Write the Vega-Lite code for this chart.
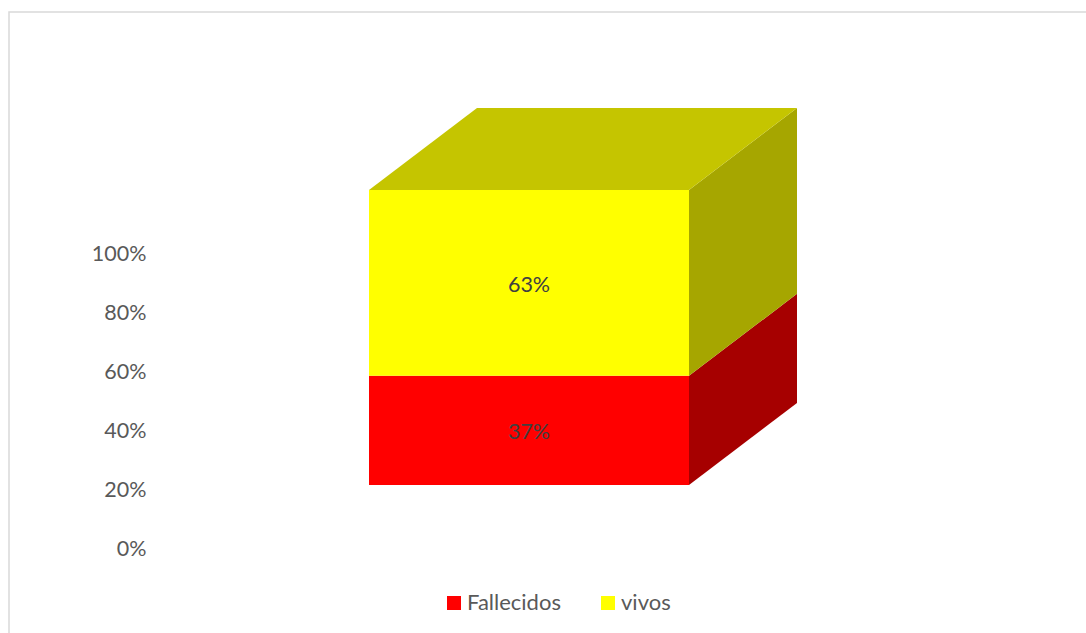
{
  "$schema": "https://vega.github.io/schema/vega-lite/v6.json",
  "width": 1090,
  "height": 630,
  "autosize": {"type": "none"},
  "padding": {"left": 9, "top": 12, "right": 0, "bottom": 0},
  "background": "white",
  "config": {
    "font": "Lato",
    "view": {"stroke": "#D9D9D9", "strokeWidth": 1.5}
  },
  "params": [
    {"name": "dx", "value": 0.3375},
    {"name": "dy", "value": 27.8}
  ],
  "data": {
    "values": [
      {"serie": "Fallecidos", "valor": 37},
      {"serie": "vivos", "valor": 63}
    ]
  },
  "transform": [
    {"stack": "valor", "groupby": [], "sort": [{"field": "serie"}], "as": ["v0", "v1"]}
  ],
  "layer": [
    {
      "transform": [
        {"calculate": "[0, 1]", "as": "t"},
        {"flatten": ["t"]},
        {"calculate": "1 + datum.t * dx", "as": "sx"},
        {"calculate": "datum.v0 + datum.t * dy", "as": "sy0"},
        {"calculate": "datum.v1 + datum.t * dy", "as": "sy1"}
      ],
      "mark": {"type": "area", "orient": "vertical"},
      "encoding": {
        "x": {"field": "sx", "type": "quantitative", "scale": {"domain": [-1.125, 2.28125], "nice": false, "zero": false}, "axis": null},
        "y": {
          "field": "sy0",
          "type": "quantitative",
          "scale": {"domain": [-53.2, 160.3], "nice": false, "zero": false},
          "axis": {
            "title": null,
            "values": [0, 20, 40, 60, 80, 100],
            "labelExpr": "datum.value + '%'",
            "grid": false,
            "domain": false,
            "ticks": false,
            "offset": -139,
            "labelPadding": 2,
            "labelOffset": 64.5,
            "labelFontSize": 21.5,
            "labelColor": "#595959",
            "labelFont": "Lato"
          }
        },
        "y2": {"field": "sy1"},
        "color": {
          "field": "serie",
          "type": "nominal",
          "scale": {"domain": ["Fallecidos", "vivos"], "range": ["#A60000", "#A6A600"]},
          "legend": null
        }
      }
    },
    {
      "transform": [
        {"filter": "datum.v1 >= 100"},
        {"calculate": "[0, 1]", "as": "t"},
        {"flatten": ["t"]},
        {"calculate": "datum.v1 + datum.t * dy", "as": "ty"},
        {"calculate": "datum.t * dx", "as": "tx0"},
        {"calculate": "1 + datum.t * dx", "as": "tx1"}
      ],
      "mark": {"type": "area", "orient": "horizontal", "color": "#C5C500"},
      "encoding": {
        "y": {"field": "ty", "type": "quantitative", "axis": null},
        "x": {"field": "tx0", "type": "quantitative", "axis": null},
        "x2": {"field": "tx1"}
      }
    },
    {
      "mark": {"type": "bar"},
      "encoding": {
        "x": {"datum": 0, "type": "quantitative", "axis": null},
        "x2": {"datum": 1},
        "y": {"field": "v0", "type": "quantitative", "axis": null},
        "y2": {"field": "v1"},
        "color": {
          "field": "serie",
          "type": "nominal",
          "scale": {"domain": ["Fallecidos", "vivos"], "range": ["#FF0000", "#FFFF00"]},
          "legend": {
            "orient": "none",
            "legendX": 434,
            "legendY": 580,
            "direction": "horizontal",
            "title": null,
            "symbolType": "square",
            "symbolSize": 196,
            "symbolStrokeWidth": 0,
            "labelFontSize": 22,
            "labelColor": "#595959",
            "labelFont": "Lato",
            "labelOffset": 2,
            "columnPadding": 36
          }
        }
      }
    },
    {
      "transform": [
        {"calculate": "(datum.v0 + datum.v1) / 2", "as": "medio"},
        {"calculate": "datum.valor + '%'", "as": "etiqueta"}
      ],
      "mark": {"type": "text", "fontSize": 21.5, "color": "#404040", "baseline": "middle", "align": "center", "dy": 3},
      "encoding": {
        "x": {"datum": 0.5, "type": "quantitative", "axis": null},
        "y": {"field": "medio", "type": "quantitative", "axis": null},
        "text": {"field": "etiqueta", "type": "nominal"}
      }
    }
  ],
  "resolve": {"scale": {"color": "independent"}, "axis": {"y": "independent"}}
}
